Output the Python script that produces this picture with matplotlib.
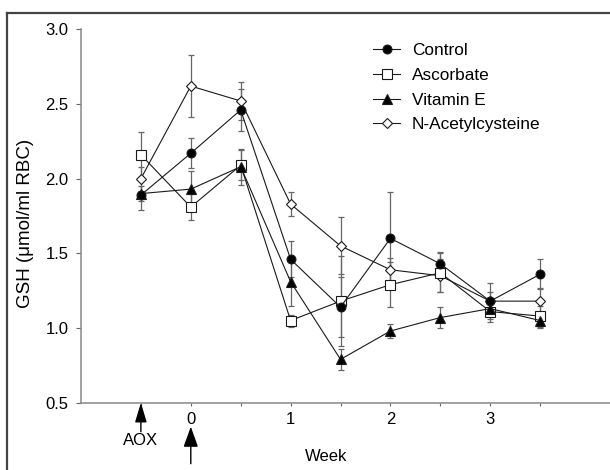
import matplotlib
matplotlib.use("Agg")
import matplotlib.pyplot as plt
from matplotlib.lines import Line2D

plt.rcParams['font.family'] = ['Liberation Sans', 'DejaVu Sans']

# week -0.5 is the AOX start point
weeks = [-0.5, 0, 0.5, 1, 1.5, 2, 2.5, 3, 3.5]
tick_pos = [0, 1, 2, 3]
tick_labels = ["0", "1", "2", "3"]

control = [1.89, 2.17, 2.46, 1.46, 1.14, 1.60, 1.43, 1.18, 1.36]
control_err = [0.10, 0.10, 0.14, 0.12, 0.20, 0.31, 0.08, 0.12, 0.10]
ascorbate = [2.16, 1.81, 2.09, 1.05, 1.18, 1.29, 1.37, 1.11, 1.08]
ascorbate_err = [0.15, 0.09, 0.10, 0.04, 0.30, 0.15, 0.13, 0.07, 0.07]
vitamin_e = [1.90, 1.93, 2.08, 1.31, 0.79, 0.98, 1.07, 1.13, 1.05]
vitamin_e_err = [0.05, 0.12, 0.12, 0.16, 0.07, 0.05, 0.07, 0.05, 0.05]
nac = [2.00, 2.62, 2.52, 1.83, 1.55, 1.39, 1.35, 1.18, 1.18]
nac_err = [0.08, 0.21, 0.13, 0.08, 0.19, 0.08, 0.11, 0.06, 0.09]

# name, values, errors, marker, face, size, stacking order
series = [
    ("Control", control, control_err, 'o', 'black', 6.4, 3.3),
    ("Ascorbate", ascorbate, ascorbate_err, 's', 'white', 7.2, 3.1),
    ("Vitamin E", vitamin_e, vitamin_e_err, '^', 'black', 7.8, 3.2),
    ("N-Acetylcysteine", nac, nac_err, 'D', 'white', 5.6, 3.0),
]

fig = plt.figure(figsize=(6.1, 4.7), dpi=100)
ax = fig.add_axes([81 / 610, 67.3 / 470, 529 / 610, 373.4 / 470])

handles = []
for name, vals, errs, mk, face, ms, z in series:
    ax.errorbar(weeks, vals, yerr=errs, fmt='none', ecolor='#666666',
                elinewidth=0.9, capsize=2.2, capthick=0.9, zorder=2)
    line, = ax.plot(weeks, vals, marker=mk, color='#1a1a1a', lw=0.8,
                    markerfacecolor=face, markeredgecolor='#1a1a1a',
                    markeredgewidth=0.8, markersize=ms, label=name, zorder=z)
    handles.append(line)

ax.set_xlim(-1.1, 4.2)
ax.set_ylim(0.5, 3.0)
ax.set_yticks([0.5, 1.0, 1.5, 2.0, 2.5, 3.0])
ax.set_yticklabels(["0.5", "1.0", "1.5", "2.0", "2.5", "3.0"])
ax.set_xticks(tick_pos)
ax.set_xticklabels(tick_labels)
ax.set_xticks([-0.5, 0.5, 1.5, 2.5, 3.5], minor=True)

for s in ['top', 'right']:
    ax.spines[s].set_visible(False)
for s in ['left', 'bottom']:
    ax.spines[s].set_color('#888888')
    ax.spines[s].set_linewidth(1.1)

ax.tick_params(axis='y', direction='out', length=3.6, width=0.8,
               color='#666666', pad=5.5, labelsize=12)
ax.tick_params(axis='x', which='both', direction='out', length=2.2,
               width=0.8, color='#666666', pad=4.5, labelsize=12)

ax.set_ylabel("GSH (μmol/ml RBC)", fontsize=13.5)
ax.yaxis.set_label_coords((34 - 81) / 529, 0.48)

leg = ax.legend(handles=handles, loc='upper left', bbox_to_anchor=(0.552, 0.963),
                frameon=False, fontsize=12.4, handlelength=1.57,
                handletextpad=0.68, labelspacing=0.56, borderpad=0,
                borderaxespad=0, numpoints=1)

# arrows under the axis: antioxidant start and week 0
ax.annotate("", xy=(-0.5, 0), xycoords=('data', 'axes fraction'),
            xytext=(-0.5, -29 / 373.4), textcoords=('data', 'axes fraction'),
            arrowprops=dict(arrowstyle='-|>,head_length=1.2,head_width=0.36',
                            mutation_scale=10, color='black', lw=1.0,
                            shrinkA=0, shrinkB=0),
            annotation_clip=False)
ax.annotate("", xy=(0, -24 / 373.4), xycoords=('data', 'axes fraction'),
            xytext=(0, -61 / 373.4), textcoords=('data', 'axes fraction'),
            arrowprops=dict(arrowstyle='-|>,head_length=1.25,head_width=0.45',
                            mutation_scale=10, color='black', lw=1.0,
                            shrinkA=0, shrinkB=0),
            annotation_clip=False)
ax.text(-0.5, -38 / 373.4, "AOX", transform=ax.get_xaxis_transform(),
        ha='center', va='center', fontsize=12)
ax.text(1.36, -54 / 373.4, "Week", transform=ax.get_xaxis_transform(),
        ha='center', va='center', fontsize=12)

# scanned page frame
fig.add_artist(Line2D([7.3 / 610, 7.3 / 610], [0, 1 - 12.7 / 470],
                      transform=fig.transFigure, color='#444444', lw=1.6))
fig.add_artist(Line2D([7.3 / 610, 1], [1 - 12.7 / 470, 1 - 12.7 / 470],
                      transform=fig.transFigure, color='#444444', lw=1.6))

fig.savefig("out.png", dpi=100)
